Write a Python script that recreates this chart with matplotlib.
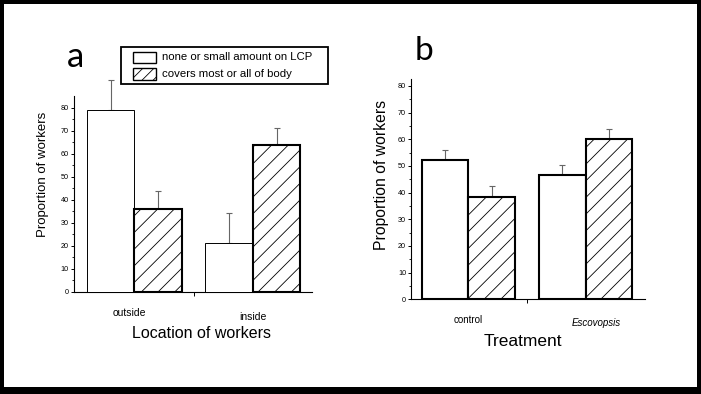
import matplotlib
matplotlib.use("Agg")
import matplotlib.pyplot as plt
from matplotlib.patches import Rectangle
from matplotlib.transforms import blended_transform_factory
import numpy as np

plt.rcParams['font.family'] = ['Liberation Sans', 'DejaVu Sans']
plt.rcParams['hatch.linewidth'] = 0.6

# ---- data ----
series_names = ['none or small amount on LCP', 'covers most or all of body']

categories_a = ['outside', 'inside']
none_a = [78.9, 21.0]
none_a_err = [13.0, 13.1]
covers_a = [35.8, 63.6]
covers_a_err = [7.8, 7.6]

categories_b = ['control', 'Escovopsis']
none_b = [52.3, 46.5]
none_b_err = [3.8, 3.9]
covers_b = [38.5, 60.2]
covers_b_err = [3.9, 3.8]

yticks = [0, 10, 20, 30, 40, 50, 60, 70, 80]

W, H = 701, 394
fig = plt.figure(figsize=(W / 100, H / 100), dpi=100, facecolor='black')


def fx(x):
    return x / W


def fy(y):
    return 1 - y / H


# white slide area
fig.patches.append(Rectangle((fx(4), fy(387)), (697 - 4) / W, (387 - 4) / H,
                             transform=fig.transFigure, facecolor='white',
                             edgecolor='none', zorder=-5))

NARROW = ['Liberation Sans Narrow', 'Liberation Sans', 'DejaVu Sans']


def panel(rect, ylim, xlim, cats, v1, e1, v2, e2, white_lw, lab_off, lab_y, lab_fs, italic_last):
    ax = fig.add_axes(rect)
    ax.set_facecolor('none')
    ax.set_zorder(2)
    x = np.arange(len(cats))
    w = 0.4
    ax.bar(x - w / 2, v1, width=w, facecolor='white', edgecolor='black',
           linewidth=white_lw, zorder=3)
    ax.bar(x + w / 2, v2, width=w, facecolor='white', edgecolor='black',
           linewidth=1.5, hatch='//', zorder=3)
    for xs, vs, es in ((x - w / 2, v1, e1), (x + w / 2, v2, e2)):
        cont = ax.errorbar(xs, vs, yerr=[np.zeros(len(vs)), es], fmt='none',
                           ecolor='#666666', elinewidth=0.8, capsize=2.5, capthick=0.8,
                           zorder=2)
        for art in cont.lines[1]:
            art.set_clip_on(False)
        for art in cont.lines[2]:
            art.set_clip_on(False)
    ax.set_ylim(*ylim)
    ax.set_xlim(*xlim)
    for s in ['top', 'right']:
        ax.spines[s].set_visible(False)
    for s in ['left', 'bottom']:
        ax.spines[s].set_linewidth(0.8)
    ax.set_yticks(yticks)
    ax.set_yticks(np.arange(5, 85, 10), minor=True)
    ax.tick_params(axis='y', which='major', length=2.5, width=0.7, labelsize=5.2, pad=1)
    ax.tick_params(axis='y', which='minor', length=1.5, width=0.6)
    ax.set_xticks([])
    ax.set_xticks([0.5], minor=True)
    ax.tick_params(axis='x', which='minor', length=3, width=0.7, labelbottom=False)
    tr = blended_transform_factory(ax.transData, ax.transAxes)
    for i, c in enumerate(cats):
        style = 'italic' if (italic_last and i == len(cats) - 1) else 'normal'
        ax.text(x[i] + lab_off[i], lab_y[i], c, transform=tr, ha='center', va='center',
                fontsize=lab_fs, style=style, family=NARROW)
    return ax


ax_a = panel([fx(73.7), fy(291.7), (312 - 73.7) / W, (291.7 - 96) / H], (0, 85), (-0.51, 1.497),
             categories_a, none_a, none_a_err, covers_a, covers_a_err, 0.7,
             [-0.04, 0.0], [-0.11, -0.13], 7.5, False)
ax_b = panel([fx(411), fy(299.3), (645 - 411) / W, (299.3 - 79.3) / H], (0, 82.5), (-0.49, 1.507),
             categories_b, none_b, none_b_err, covers_b, covers_b_err, 1.5,
             [0.0, 0.094], [-0.095, -0.108], 7, True)

# axis titles
fig.text(fx(201), fy(334), 'Location of workers', ha='center', va='center', fontsize=11.5)
fig.text(fx(42.7), fy(174), 'Proportion of workers', ha='center', va='center',
         rotation=90, fontsize=9.5)
fig.text(fx(523), fy(341), 'Treatment', ha='center', va='center', fontsize=12.5, family=NARROW)
fig.text(fx(381.7), fy(174.7), 'Proportion of workers', ha='center', va='center',
         rotation=90, fontsize=11.3)

# panel letters
fig.text(fx(75), fy(66.7), 'a', ha='center', va='baseline', fontsize=25,
         family=['Lato', 'DejaVu Sans'])
fig.text(fx(424), fy(60), 'b', ha='center', va='baseline', fontsize=24,
         family=['Lato', 'DejaVu Sans'])

# legend
fig.patches.append(Rectangle((fx(120.7), fy(84)), (328.3 - 120.7) / W, (84 - 47.3) / H,
                             transform=fig.transFigure, facecolor='white',
                             edgecolor='black', linewidth=1.3, zorder=5))
fig.patches.append(Rectangle((fx(132.7), fy(63.3)), (156 - 132.7) / W, (63.3 - 51.7) / H,
                             transform=fig.transFigure, facecolor='white',
                             edgecolor='black', linewidth=1.0, zorder=6))
fig.patches.append(Rectangle((fx(132.7), fy(80)), (156 - 132.7) / W, (80 - 68.3) / H,
                             transform=fig.transFigure, facecolor='white',
                             edgecolor='black', linewidth=1.0, hatch='///', zorder=6))
fig.text(fx(162.3), fy(57.5), series_names[0], ha='left', va='center', fontsize=8.2, zorder=7)
fig.text(fx(162.3), fy(74.2), series_names[1], ha='left', va='center', fontsize=8.2, zorder=7)

fig.savefig('out.png', dpi=100, facecolor=fig.get_facecolor())
